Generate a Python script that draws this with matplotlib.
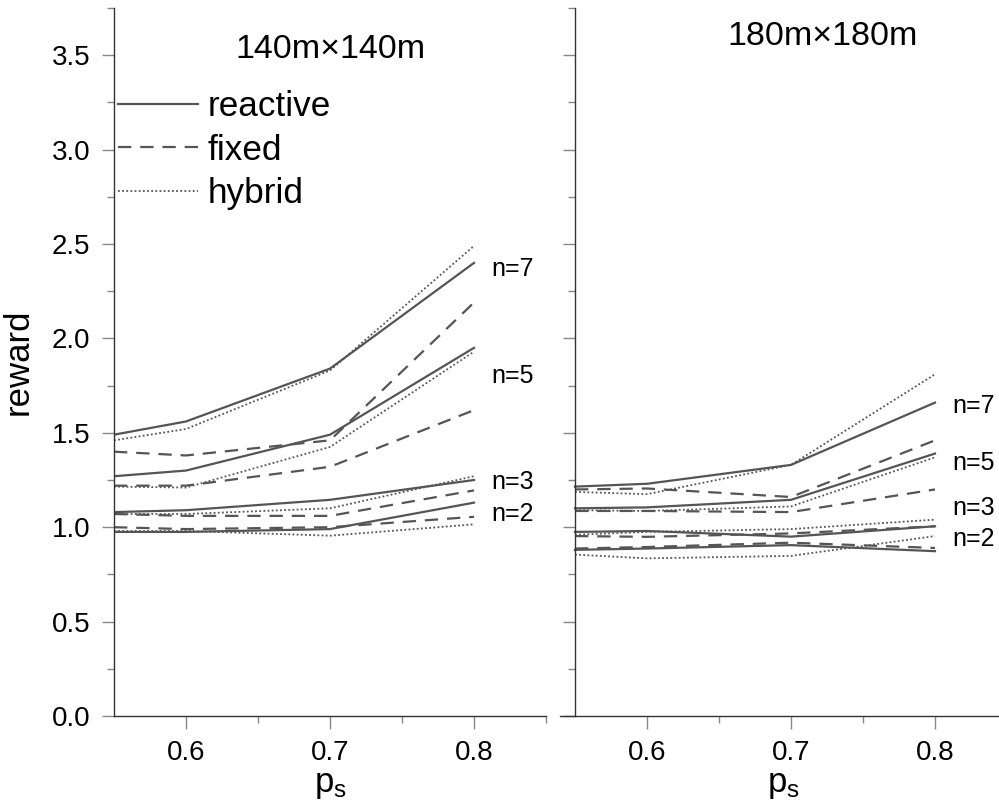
import matplotlib
matplotlib.use("Agg")
import matplotlib.pyplot as plt
from matplotlib.lines import Line2D
from matplotlib.ticker import MultipleLocator, FixedLocator

plt.rcParams['font.family'] = ['Liberation Sans', 'DejaVu Sans']
plt.rcParams['mathtext.default'] = 'regular'

# p_s values
ps = [0.55, 0.6, 0.7, 0.8]
n_labels = ['n=7', 'n=5', 'n=3', 'n=2']

# 140m x 140m  (rows: n=7, n=5, n=3, n=2)
left_reactive = [[1.49, 1.56, 1.84, 2.40],
                 [1.27, 1.30, 1.49, 1.95],
                 [1.08, 1.09, 1.145, 1.25],
                 [0.975, 0.975, 0.99, 1.13]]
left_fixed = [[1.40, 1.38, 1.46, 2.19],
              [1.22, 1.22, 1.32, 1.62],
              [1.07, 1.06, 1.06, 1.195],
              [1.00, 0.99, 1.00, 1.055]]
left_hybrid = [[1.46, 1.52, 1.83, 2.49],
               [1.215, 1.21, 1.425, 1.93],
               [1.07, 1.07, 1.10, 1.27],
               [0.98, 0.98, 0.955, 1.015]]

# 180m x 180m
right_reactive = [[1.215, 1.23, 1.33, 1.66],
                  [1.10, 1.105, 1.145, 1.39],
                  [0.975, 0.98, 0.95, 1.005],
                  [0.88, 0.887, 0.905, 0.873]]
right_fixed = [[1.20, 1.205, 1.16, 1.46],
               [1.086, 1.086, 1.08, 1.20],
               [0.953, 0.949, 0.967, 1.005],
               [0.887, 0.895, 0.918, 0.89]]
right_hybrid = [[1.187, 1.175, 1.33, 1.81],
                [1.09, 1.086, 1.11, 1.37],
                [0.96, 0.975, 0.99, 1.04],
                [0.855, 0.835, 0.848, 0.953]]

# label y positions for the n=.. annotations
left_label_y = [2.37, 1.80, 1.24, 1.07]
right_label_y = [1.64, 1.34, 1.10, 0.94]

LC = '#555555'
styles = {
    'reactive': dict(color=LC, lw=1.6, ls='-'),
    'fixed': dict(color=LC, lw=1.6, ls=(0, (6, 4))),
    'hybrid': dict(color=LC, lw=1.3, ls=(0, (1, 1.3))),
}

fig = plt.figure(figsize=(9.99, 8.05), dpi=100)
W, H = 999, 805
ax1 = fig.add_axes([114 / W, 1 - 716 / H, 432 / W, 708 / H])
ax2 = fig.add_axes([560 / W, 1 - 716 / H, 447 / W, 708 / H])


def style_axes(ax, xmin):
    ax.set_xlim(xmin, 0.85)
    ax.set_ylim(0, 3.75)
    for s in ['top', 'right']:
        ax.spines[s].set_visible(False)
    for s in ['left', 'bottom']:
        ax.spines[s].set_color('#333333')
        ax.spines[s].set_linewidth(1.0)
    ax.spines['left'].set_position(('data', 0.55))
    ax.xaxis.set_major_locator(FixedLocator([0.6, 0.7, 0.8]))
    ax.xaxis.set_minor_locator(FixedLocator([0.65, 0.75, 0.85]))
    ax.yaxis.set_major_locator(MultipleLocator(0.5))
    ax.yaxis.set_minor_locator(MultipleLocator(0.25))
    ax.tick_params(which='major', direction='out', length=9, width=1, color='#888888',
                   labelsize=20, pad=8)
    ax.tick_params(which='minor', direction='out', length=5, width=1, color='#888888')
    ax.set_xticklabels(['0.6', '0.7', '0.8'])
    ax.set_xlabel('p$_s$', fontsize=25, labelpad=2)


style_axes(ax1, 0.55)
style_axes(ax2, 0.55 - 15 / 1440)
ax1.set_yticklabels([f'{v:.1f}' for v in ax1.get_yticks()])
ax2.tick_params(axis='y', labelleft=False)
ax1.set_ylabel('reward', fontsize=25, labelpad=12)

for ax, rea, fix, hyb, ly in [(ax1, left_reactive, left_fixed, left_hybrid, left_label_y),
                              (ax2, right_reactive, right_fixed, right_hybrid, right_label_y)]:
    for i in range(4):
        ax.plot(ps, fix[i], **styles['fixed'])
        ax.plot(ps, hyb[i], **styles['hybrid'])
        ax.plot(ps, rea[i], **styles['reactive'])
        ax.text(0.812, ly[i], n_labels[i], fontsize=18, va='center', ha='left')

ax1.text(0.50, 3.53, '140m\u00d7140m', transform=ax1.get_yaxis_transform(),
         fontsize=24.5, ha='center', va='center')
ax2.text(0.722, 3.60, '180m\u00d7180m', fontsize=24.5, ha='center', va='center')

handles = [Line2D([], [], **styles[k]) for k in ['reactive', 'fixed', 'hybrid']]
ax1.legend(handles, ['reactive', 'fixed', 'hybrid'], loc='upper left',
           bbox_to_anchor=(0.009, 0.884), frameon=False, fontsize=25.3,
           handlelength=2.28, handletextpad=0.28, labelspacing=0.30, borderpad=0,
           borderaxespad=0)

fig.savefig('out.png', dpi=100)
